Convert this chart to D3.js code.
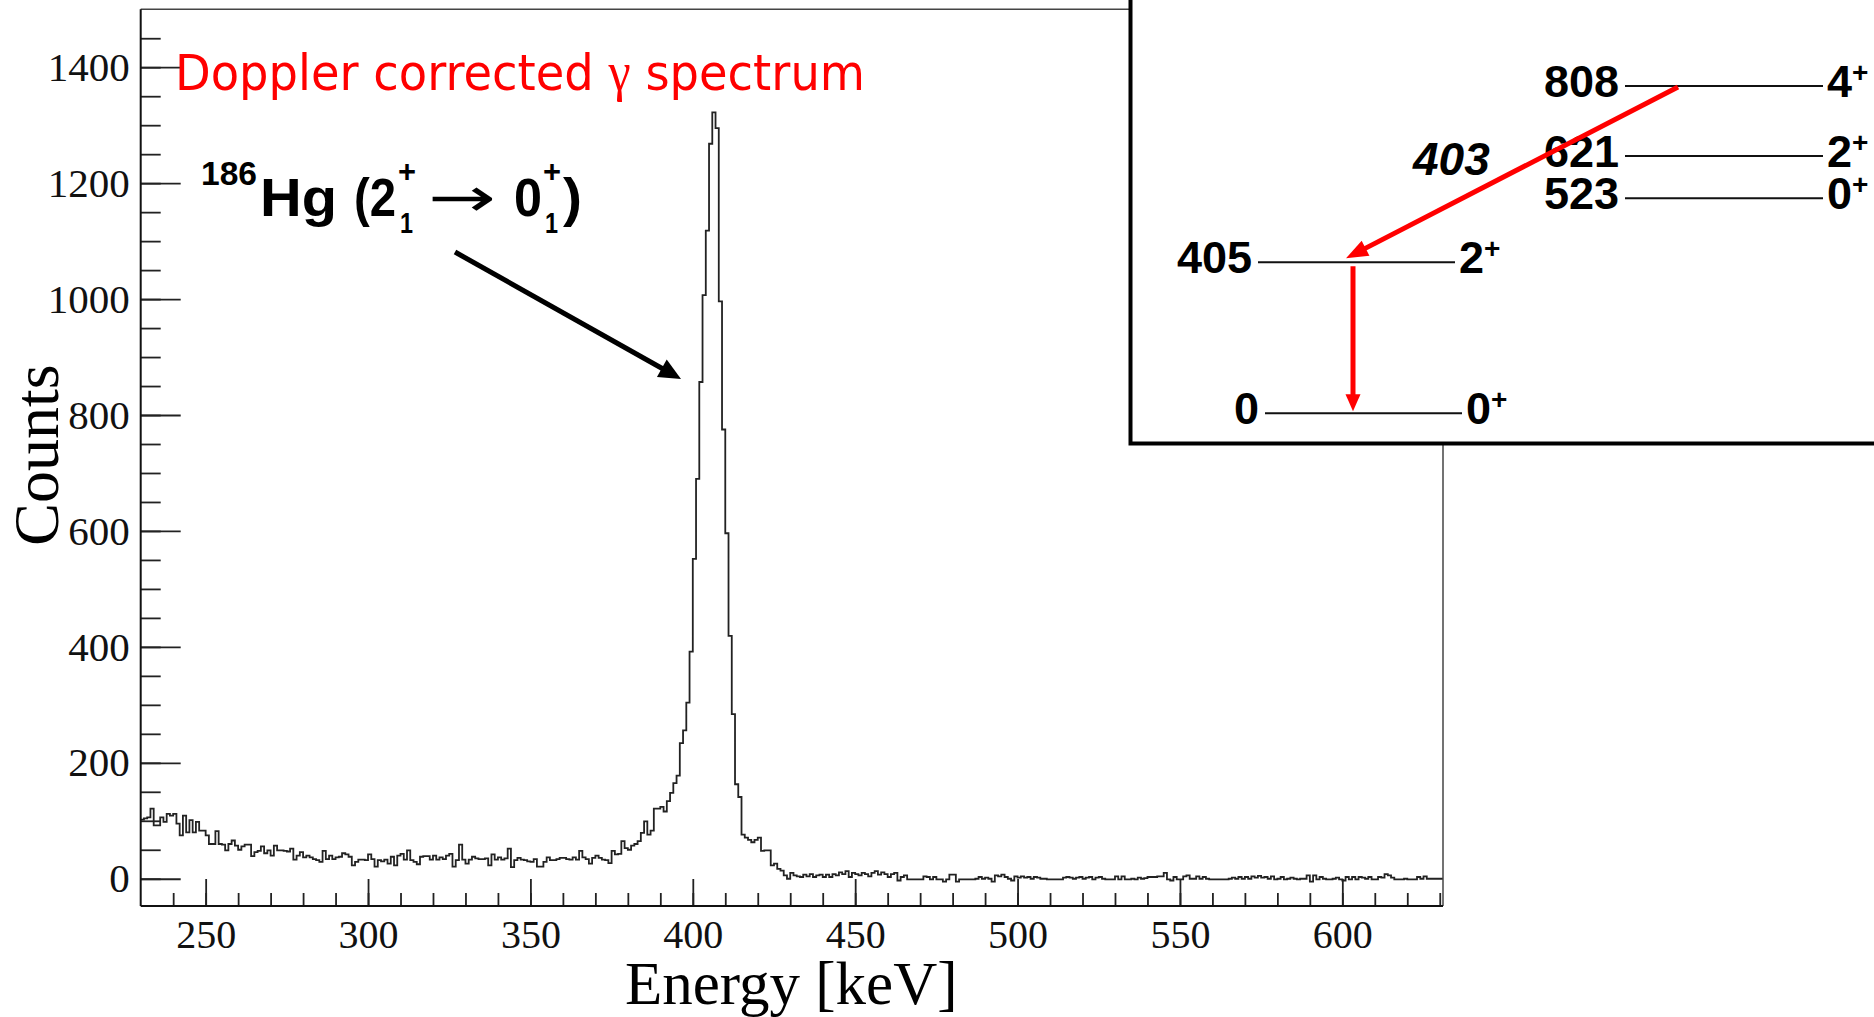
<!DOCTYPE html>
<html>
<head>
<meta charset="utf-8">
<script src="https://cdn.jsdelivr.net/npm/d3@7"></script>
<style>
  html, body { margin: 0; padding: 0; background: #fff; }
  svg { display: block; }
</style>
</head>
<body>
<div id="graph"></div>
<script>
const width = 1874, height = 1017;

// Doppler corrected spectrum, 1 keV bins from 230 keV
const binStart = 230;
const binWidth = 1;
const counts = [
  102,104,106,121,92,92,106,98,112,109,
  112,95,75,109,80,101,80,98,83,83,
  75,60,60,82,60,59,49,60,66,57,
  50,56,59,59,39,46,48,56,44,49,
  40,57,49,49,48,47,52,33,40,46,
  37,40,37,34,32,29,48,34,40,34,
  37,38,44,42,38,23,29,33,33,32,
  42,34,21,32,30,33,26,38,23,40,
  43,33,49,32,29,25,38,39,39,33,
  40,33,37,34,40,43,21,32,59,33,
  26,33,38,35,34,34,35,23,42,33,
  37,33,35,52,20,32,36,33,32,30,
  29,34,21,21,29,37,32,32,34,36,
  36,34,33,37,33,48,37,34,26,36,
  40,36,33,32,27,48,42,43,65,53,
  50,57,60,65,79,99,76,83,121,121,
  124,116,134,148,165,178,234,256,304,392,
  552,690,857,1007,1118,1268,1322,1295,996,775,
  596,419,284,163,141,76,71,67,63,67,
  71,48,49,49,23,26,17,14,6,0,
  10,6,4,
  3,7,4,8,3,6,7,3,7,3,
  8,6,11,8,13,3,10,8,6,10,
  8,4,10,13,7,11,8,3,8,10,
  -3,3,6,-1,-1,-1,-1,-1,4,3,
  -1,3,-1,-1,-5,-1,7,7,-5,-1,
  -1,-1,-1,-1,0,3,0,2,0,-5,
  6,4,7,3,0,-3,4,2,4,2,
  3,0,3,2,0,0,-1,-1,-1,-1,
  -1,2,3,2,0,2,3,0,2,3,
  -1,2,3,0,
  -1,-1,-1,4,-1,4,-1,-1,0,-1,
  2,0,1,3,3,3,4,4,10,-1,
  -3,3,-1,-1,4,6,0,0,4,0,
  3,0,-1,-1,-1,-1,-1,-1,0,2,
  0,3,0,3,0,4,2,5,2,3,
  0,4,-1,0,3,-1,0,2,0,-1,
  0,0,6,-5,6,-1,3,0,-1,-1,
  0,2,-1,-3,3,-1,3,-1,3,2,
  0,3,-1,-1,3,2,8,6,2,-1,
  -1,-1,0,-1,-1,-1,3,0,4,0,
  0,0,0,0
];

const xMajorTicks = [250, 300, 350, 400, 450, 500, 550, 600];
const yMajorTicks = [0, 200, 400, 600, 800, 1000, 1200, 1400];

// level scheme of 186Hg (keV)
const levelEnergies = [0, 405, 523, 621, 808];
const levelSpins = ["0", "2", "0", "2", "4"];
const levelColumns = ["left", "left", "right", "right", "right"];
const gammaFrom = [808, 405];
const gammaTo = [405, 0];
const gammaLabels = ["403", ""];

const svg = d3.select("#graph")
    .append("svg")
    .attr("width", width)
    .attr("height", height);

let x = d3.scaleLinear().domain([230, 631]).range([140.7, 1443]);
let y = d3.scaleLinear().domain([-47, 1500]).range([906, 9.25]);

// histogram
let points = counts.map((c, i) => [binStart + i * binWidth, c]);
points.push([binStart + counts.length * binWidth, counts[counts.length - 1]]);

let histLine = d3.line()
    .x(d => x(d[0]))
    .y(d => y(d[1]))
    .curve(d3.curveStepAfter);

svg.append("path")
    .datum(points)
    .attr("d", histLine)
    .attr("fill", "none")
    .attr("stroke", "#222")
    .attr("stroke-width", 1.8);

// axes, ROOT style ticks pointing inside
let xAxisY = y(-47);
svg.append("g")
    .attr("transform", `translate(0,${xAxisY})`)
    .call(d3.axisBottom(x).tickValues(d3.range(240, 631, 10)).tickSize(-13).tickSizeOuter(0).tickFormat(""))
    .call(g => g.select(".domain").remove());

let xAxis = svg.append("g")
    .attr("transform", `translate(0,${xAxisY})`)
    .call(d3.axisBottom(x).tickValues(xMajorTicks).tickSize(-27).tickSizeOuter(0).tickPadding(14).tickFormat(d3.format("d")))
    .call(g => g.select(".domain").remove());

svg.append("g")
    .attr("transform", `translate(${x(230)},0)`)
    .call(d3.axisLeft(y).tickValues(d3.range(0, 1500, 50)).tickSize(-20).tickSizeOuter(0).tickFormat(""))
    .call(g => g.select(".domain").remove());

let yAxis = svg.append("g")
    .attr("transform", `translate(${x(230)},0)`)
    .call(d3.axisLeft(y).tickValues(yMajorTicks).tickSize(-40).tickSizeOuter(0).tickPadding(11).tickFormat(d3.format("d")))
    .call(g => g.select(".domain").remove());

svg.selectAll(".tick line").attr("stroke", "#222").attr("stroke-width", 1.8);

xAxis.selectAll("text")
    .style("font-family", "'Liberation Serif', 'Times New Roman', serif")
    .style("font-size", "40px")
    .attr("fill", "#111");

yAxis.selectAll("text")
    .style("font-family", "'Liberation Serif', 'Times New Roman', serif")
    .style("font-size", "41px")
    .attr("fill", "#111");

// frame
svg.append("line").attr("x1", x(230)).attr("x2", x(631)).attr("y1", y(1500)).attr("y2", y(1500))
    .attr("stroke", "#444").attr("stroke-width", 1.5);
svg.append("line").attr("x1", x(631)).attr("x2", x(631)).attr("y1", y(1500)).attr("y2", y(-47))
    .attr("stroke", "#444").attr("stroke-width", 1.5);
svg.append("line").attr("x1", x(230)).attr("x2", x(230)).attr("y1", y(1500)).attr("y2", y(-47))
    .attr("stroke", "#111").attr("stroke-width", 2);
svg.append("line").attr("x1", x(230)).attr("x2", x(631)).attr("y1", y(-47)).attr("y2", y(-47))
    .attr("stroke", "#111").attr("stroke-width", 2);

// axis titles
svg.append("text")
    .attr("transform", "translate(58,455) rotate(-90)")
    .style("text-anchor", "middle")
    .style("font-family", "'Liberation Serif', 'Times New Roman', serif")
    .style("font-size", "64px")
    .text("Counts");

svg.append("text")
    .attr("x", 625)
    .attr("y", 1004)
    .style("font-family", "'Liberation Serif', 'Times New Roman', serif")
    .style("font-size", "61px")
    .text("Energy [keV]");

// red title
let title = svg.append("text")
    .attr("x", 175)
    .attr("y", 90)
    .attr("textLength", 690)
    .attr("lengthAdjust", "spacingAndGlyphs")
    .attr("fill", "#ff0000")
    .style("font-family", "'DejaVu Sans', Tahoma, sans-serif")
    .style("font-size", "50px");
title.append("tspan").text("Doppler corrected ");
title.append("tspan").style("font-family", "'Liberation Serif', serif").style("font-size", "54px").text("γ");
title.append("tspan").text(" spectrum");

// 186Hg label
let hg = svg.append("g")
    .style("font-family", "'Liberation Sans', Arial, sans-serif")
    .style("font-weight", "bold")
    .attr("fill", "#000");
function piece(txt, px, py, size, len) {
    return hg.append("text").attr("x", px).attr("y", py)
        .style("font-size", size + "px")
        .attr("textLength", len).attr("lengthAdjust", "spacingAndGlyphs")
        .text(txt);
}
piece("186", 201, 185, 34, 56);
piece("Hg", 260, 216, 54, 77);
piece("(2", 354, 216, 54, 42);
piece("+", 398, 182, 32, 18);
piece("1", 400, 233, 30, 13);
piece("→", 428, 216, 54, 68).style("font-weight", "normal").style("font-family", "'DejaVu Sans', sans-serif");
piece("0", 514, 216, 54, 28);
piece("+", 543, 182, 32, 18);
piece("1", 545, 233, 30, 13);
piece(")", 563, 216, 54, 19);

function arrow(g, x1, y1, x2, y2, w, headLen, headHalf, color) {
    let dx = x2 - x1, dy = y2 - y1, L = Math.hypot(dx, dy);
    let ux = dx / L, uy = dy / L;
    let bx = x2 - ux * headLen, by = y2 - uy * headLen;
    g.append("line")
        .attr("x1", x1).attr("y1", y1)
        .attr("x2", bx + ux * 2).attr("y2", by + uy * 2)
        .attr("stroke", color).attr("stroke-width", w);
    g.append("path")
        .attr("d", `M${x2},${y2}L${bx - uy * headHalf},${by + ux * headHalf}L${bx + uy * headHalf},${by - ux * headHalf}Z`)
        .attr("fill", color);
}

arrow(svg, 455, 252, 681, 379, 5, 22, 10, "#000");

// level scheme inset
let inset = svg.append("g");
inset.append("rect")
    .attr("x", 1130.5).attr("y", -20)
    .attr("width", 800).attr("height", 463.5)
    .attr("fill", "#fff").attr("stroke", "#000").attr("stroke-width", 4);

let levelY = d3.scaleLinear().domain(levelEnergies).range([413.3, 262.3, 198.3, 156, 86]);
let colStart = d3.scaleOrdinal().domain(["left", "right"]).range([1258, 1625]);
let colEnd = d3.scaleOrdinal().domain(["left", "right"]).range([1455, 1823]);
// ground state line sits a little to the right in the drawing
let shift = d => (d.e === 0 ? 7 : 0);

let levels = levelEnergies.map((e, i) => ({ e: e, spin: levelSpins[i], col: levelColumns[i] }));

inset.selectAll(".lvl").data(levels).enter()
    .append("line")
    .attr("x1", d => colStart(d.col) + shift(d))
    .attr("x2", d => colEnd(d.col) + shift(d))
    .attr("y1", d => levelY(d.e))
    .attr("y2", d => levelY(d.e))
    .attr("stroke", "#111").attr("stroke-width", 2);

inset.selectAll(".elab").data(levels).enter()
    .append("text")
    .attr("x", d => colStart(d.col) + shift(d) - 6)
    .attr("y", d => levelY(d.e) + 11)
    .style("text-anchor", "end")
    .style("font-family", "'Liberation Sans', Arial, sans-serif")
    .style("font-weight", "bold")
    .style("font-size", "45px")
    .text(d => d.e);

let spinText = inset.selectAll(".slab").data(levels).enter()
    .append("text")
    .attr("x", d => colEnd(d.col) + shift(d) + 4)
    .attr("y", d => levelY(d.e) + 11)
    .style("font-family", "'Liberation Sans', Arial, sans-serif")
    .style("font-weight", "bold")
    .style("font-size", "45px");
spinText.append("tspan").text(d => d.spin);
spinText.append("tspan").attr("dy", -15).style("font-size", "28px").text("+");

// gamma transitions
let gammaX = [[1678, 1346], [1353, 1353]];
gammaFrom.forEach((from, i) => {
    let to = gammaTo[i];
    let [gx1, gx2] = gammaX[i];
    let y1 = i === 0 ? levelY(from) + 1 : levelY(from) + 4;
    let y2 = i === 0 ? levelY(to) - 4 : levelY(to) - 2;
    arrow(inset, gx1, y1, gx2, y2, 5, i === 0 ? 22 : 17, i === 0 ? 8.5 : 7.5, "#ff0000");
    if (gammaLabels[i]) {
        inset.append("text")
            .attr("x", 1413).attr("y", 175)
            .style("font-family", "'Liberation Sans', Arial, sans-serif")
            .style("font-weight", "bold")
            .style("font-style", "italic")
            .style("font-size", "46px")
            .text(gammaLabels[i]);
    }
});
</script>
</body>
</html>
